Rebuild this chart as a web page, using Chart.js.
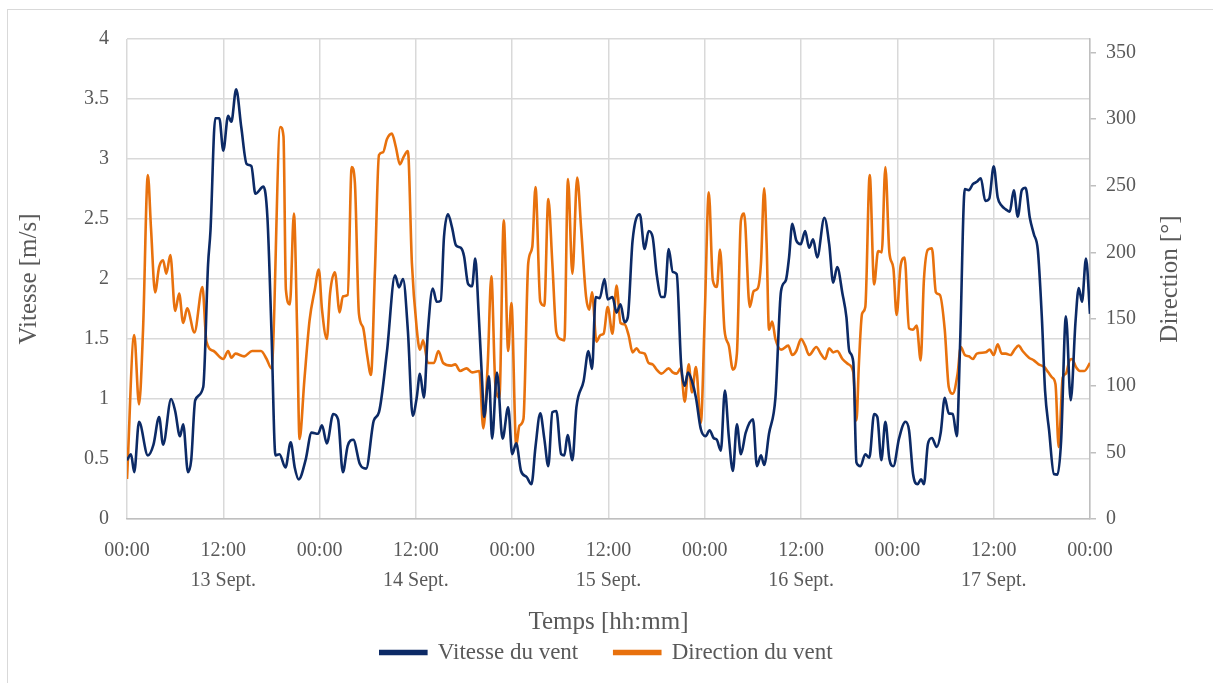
<!DOCTYPE html>
<html>
<head>
<meta charset="utf-8">
<script src="https://cdn.jsdelivr.net/npm/chart.js@4.4.1/dist/chart.umd.min.js"></script>
<style>
  html, body { margin: 0; padding: 0; background: #fff; }
  canvas { display: block; }
</style>
</head>
<body>
<canvas id="chart" width="1213" height="683"></canvas>
<script>
// Temps en heures depuis le 13 sept. 00:00
const speedHours = [
  0, 0.5, 0.9, 1.5, 2.6, 3.3, 4.0, 4.5, 5.5, 6.0, 6.6, 7.0, 7.6, 8.0, 8.5, 9.5, 10.1, 10.4, 11.0, 11.5,
  12.0, 12.6, 13.0, 13.6, 14.25, 14.9, 15.5, 16.0, 17.0, 17.5, 18.0, 18.5, 19.0, 19.75, 20.4, 20.9, 21.4, 22.25, 23.0, 23.8,
  24.3, 24.9, 25.7, 26.3, 26.9, 27.5, 28.2, 29.0, 29.8, 30.75, 31.4, 32.4, 33.4, 33.9, 34.4, 35.0, 35.6, 36.1, 36.5, 37.0,
  37.5, 38.1, 38.6, 39.1, 39.5, 40.0, 40.5, 41.0, 41.6, 42.0, 42.5, 43.0, 43.4, 43.8, 44.25, 44.5, 45.1, 45.5, 46.1, 46.8,
  47.5, 48.0, 48.5, 49.1, 49.8, 50.4, 50.9, 51.5, 52.0, 52.5, 53.0, 53.5, 54.1, 54.5, 54.9, 55.5, 56.0, 56.9, 57.5, 57.95,
  58.4, 58.9, 59.5, 59.9, 60.5, 61.0, 61.5, 62.0, 62.4, 63.0, 63.9, 64.5, 65.0, 65.5, 66.0, 66.6, 67.0, 67.5, 68.0, 68.5,
  69.05, 69.5, 69.9, 70.4, 70.9, 71.5, 72.1, 72.6, 73.1, 73.5, 74.0, 74.5, 75.0, 75.5, 76.0, 76.5, 77.1, 78.0, 78.5, 79.0,
  79.4, 80.0, 80.8, 81.5, 82.1, 82.5, 82.9, 83.4, 83.95, 84.5, 85.0, 85.5, 86.0, 86.9, 87.5, 88.0, 88.5, 89.15, 89.65, 90.0,
  90.5, 90.9, 91.4, 92.0, 92.5, 93.1, 93.5, 94.0, 94.5, 95.0, 95.5, 96.2, 97.0, 97.45, 97.95, 98.5, 98.95, 99.3, 99.8, 100.3,
  100.9, 101.4, 101.9, 102.4, 102.9, 103.4, 103.8, 104.4, 104.9, 105.4, 105.9, 106.4, 106.95, 107.45, 108.0, 108.5, 109.0, 109.5, 110.0, 110.5,
  111.0, 111.5, 111.97, 112.5, 113.0, 113.5, 114.0, 114.4, 114.9, 115.5, 115.95, 116.4, 117.0, 117.6, 118.2, 118.6, 119.0, 119.5, 120.0
];
const speedValues = [
  0.49, 0.54, 0.39, 0.81, 0.53, 0.62, 0.85, 0.62, 1.0, 0.9, 0.69, 0.79, 0.39, 0.49, 0.99, 1.1, 2.12, 2.4, 3.34, 3.34,
  3.07, 3.36, 3.31, 3.58, 3.26, 2.96, 2.94, 2.71, 2.77, 2.51, 1.57, 0.53, 0.54, 0.43, 0.64, 0.43, 0.33, 0.49, 0.72, 0.71,
  0.78, 0.63, 0.875, 0.83, 0.39, 0.61, 0.66, 0.46, 0.42, 0.82, 0.89, 1.40, 2.03, 1.93, 2.0, 1.57, 0.86, 1.01, 1.21, 1.01,
  1.57, 1.92, 1.81, 1.82, 2.35, 2.54, 2.43, 2.28, 2.26, 2.19, 1.96, 1.94, 2.17, 1.74, 1.15, 0.85, 1.19, 0.67, 1.22, 0.67,
  0.93, 0.54, 0.63, 0.40, 0.35, 0.29, 0.60, 0.88, 0.67, 0.44, 0.89, 0.90, 0.54, 0.53, 0.70, 0.49, 0.93, 1.15, 1.40, 1.25,
  1.85, 1.84, 2.0, 1.83, 1.85, 1.72, 1.79, 1.64, 1.68, 2.32, 2.54, 2.25, 2.40, 2.35, 2.04, 1.85, 1.85, 2.25, 2.06, 2.04,
  1.29, 1.11, 1.22, 1.15, 1.01, 0.75, 0.69, 0.74, 0.675, 0.66, 0.57, 1.07, 0.68, 0.40, 0.79, 0.54, 0.72, 0.83, 0.44, 0.53,
  0.45, 0.71, 1.01, 1.90, 1.99, 2.18, 2.46, 2.32, 2.29, 2.40, 2.26, 2.33, 2.18, 2.51, 2.29, 1.97, 2.10, 1.88, 1.68, 1.40,
  1.31, 0.47, 0.44, 0.54, 0.51, 0.875, 0.85, 0.49, 0.81, 0.50, 0.44, 0.67, 0.81, 0.74, 0.375, 0.29, 0.33, 0.29, 0.625, 0.675,
  0.60, 0.72, 1.01, 0.88, 0.875, 0.69, 1.43, 2.75, 2.74, 2.79, 2.81, 2.84, 2.65, 2.67, 2.94, 2.68, 2.61, 2.58, 2.56, 2.74,
  2.52, 2.74, 2.76, 2.51, 2.375, 2.24, 1.68, 1.07, 0.74, 0.375, 0.37, 0.65, 1.69, 0.99, 1.65, 1.925, 1.81, 2.17, 1.71
];

const dirHours = [
  0, 0.9, 1.5, 2.0, 2.6, 3.0, 3.5, 4.0, 4.5, 4.9, 5.4, 6.0, 6.5, 7.0, 7.5, 8.4, 9.4, 9.9, 10.8, 12.0,
  12.6, 13.0, 13.5, 14.6, 15.6, 16.7, 17.4, 18.0, 19.1, 19.5, 19.8, 20.3, 20.8, 21.2, 21.5, 22.1, 22.75, 23.4, 23.9, 24.3,
  24.9, 25.3, 25.9, 26.5, 26.9, 27.5, 28.0, 28.4, 28.9, 29.4, 29.9, 30.4, 30.9, 31.4, 31.9, 32.4, 33.0, 33.5, 34.0, 34.5,
  35.0, 35.5, 36.1, 36.5, 36.9, 37.5, 38.25, 38.8, 39.4, 40.4, 40.9, 41.5, 42.3, 43.0, 43.9, 44.4, 44.95, 45.4, 45.9, 46.4,
  46.95, 47.5, 47.9, 48.5, 48.9, 49.4, 50.0, 50.5, 50.9, 51.5, 52.0, 52.5, 53.0, 53.5, 54.0, 54.5, 54.95, 55.5, 56.1, 56.6,
  57.2, 57.6, 57.95, 58.5, 59.0, 59.4, 59.9, 60.5, 61.0, 61.5, 62.0, 62.5, 63.0, 63.5, 63.9, 64.5, 65.0, 65.5, 66.0, 66.6,
  67.5, 68.0, 68.5, 69.0, 69.5, 70.0, 70.4, 70.9, 71.5, 72.0, 72.5, 73.0, 73.5, 73.9, 74.45, 75.0, 75.5, 76.0, 76.5, 76.9,
  77.6, 78.1, 78.6, 79.0, 79.4, 79.7, 80.0, 80.4, 80.8, 81.5, 82.4, 82.9, 83.4, 84.0, 84.5, 85.0, 85.9, 86.45, 87.0, 87.5,
  88.0, 88.5, 89.15, 89.9, 90.5, 90.9, 91.2, 91.6, 92.0, 92.55, 93.1, 93.6, 94.05, 94.5, 95.0, 95.5, 95.9, 96.4, 96.9, 97.45,
  97.95, 98.4, 98.9, 99.3, 99.8, 100.3, 100.8, 101.3, 101.9, 102.4, 102.9, 103.5, 103.9, 104.4, 104.9, 105.4, 105.9, 107.0, 107.5, 108.0,
  108.5, 109.0, 109.5, 110.1, 110.6, 111.1, 111.6, 112.4, 113.0, 113.6, 114.3, 114.8, 115.3, 115.7, 116.1, 116.6, 117.0, 117.45, 117.75, 118.25,
  118.75, 119.3, 120.0
];
const dirValues = [
  30, 138, 86, 142, 258, 217, 170, 189, 194, 184, 198, 156, 169, 147, 158, 140, 174, 133, 126, 120,
  126, 121, 124, 122, 126, 126, 120, 113, 294, 287, 172, 161, 229, 142, 60, 104, 149, 172, 187, 157,
  135, 169, 185, 155, 167, 168, 264, 252, 154, 144, 124, 108, 187, 273, 275, 285, 289, 279, 266, 272,
  276, 192, 143, 127, 134, 117, 117, 126, 117, 115, 116, 111, 113, 110, 111, 68, 116, 182, 101, 91,
  224, 126, 162, 55, 70, 75, 192, 204, 249, 163, 160, 240, 192, 140, 135, 134, 255, 184, 256, 217,
  167, 157, 170, 133, 138, 139, 159, 139, 175, 147, 146, 138, 125, 128, 125, 124, 117, 116, 112, 109,
  113, 110, 109, 113, 88, 116, 95, 114, 72, 154, 245, 179, 174, 202, 142, 130, 112, 124, 224, 229,
  159, 171, 173, 192, 248, 207, 142, 148, 135, 127, 130, 123, 126, 135, 130, 123, 129, 124, 120, 128,
  125, 126, 120, 116, 110, 74, 116, 154, 159, 258, 176, 201, 200, 264, 200, 188, 153, 190, 196, 143,
  142, 145, 119, 179, 202, 203, 170, 168, 142, 99, 94, 109, 129, 123, 122, 120, 124, 125, 127, 123,
  131, 124, 124, 123, 127, 130, 126, 121, 119, 116, 114, 110, 106, 101, 54, 106, 109, 119, 120, 114,
  111, 111, 117
];

// Graduations et libellés
const dirTicks = [0, 50, 100, 150, 200, 250, 300, 350];
const dayLabels = ['13 Sept.', '14 Sept.', '15 Sept.', '16 Sept.', '17 Sept.'];

const TEXT = '#595959';
const GRID = '#d9d9d9';
const FONT = "'Liberation Serif', 'DejaVu Serif', serif";

Chart.defaults.font.family = FONT;
Chart.defaults.color = TEXT;

// Cadre gris + titre de l'axe de droite (lu de bas en haut comme dans Excel)
const frame = {
  id: 'frame',
  beforeDraw(chart) {
    const ctx = chart.ctx;
    ctx.save();
    ctx.fillStyle = '#fff';
    ctx.fillRect(0, 0, chart.width, chart.height);
    ctx.strokeStyle = GRID;
    ctx.lineWidth = 1;
    ctx.strokeRect(7.5, 9.5, chart.width + 10, chart.height + 10);
    ctx.restore();
  },
  afterDraw(chart) {
    const area = chart.chartArea;
    const ctx = chart.ctx;
    ctx.save();
    ctx.translate(area.right + 80, (area.top + area.bottom) / 2);
    ctx.rotate(-Math.PI / 2);
    ctx.font = '25px ' + FONT;
    ctx.fillStyle = TEXT;
    ctx.textAlign = 'center';
    ctx.textBaseline = 'middle';
    ctx.fillText('Direction [°]', 0, 0);
    ctx.restore();
  }
};

const toPoints = (xs, ys) => xs.map((x, i) => ({ x: x, y: ys[i] }));

new Chart(document.getElementById('chart'), {
  type: 'line',
  data: {
    datasets: [{
      label: 'Vitesse du vent',
      data: toPoints(speedHours, speedValues),
      yAxisID: 'y',
      borderColor: '#0c2a66',
      backgroundColor: '#0c2a66',
      borderWidth: 2.6,
      pointRadius: 0,
      cubicInterpolationMode: 'monotone'
    }, {
      label: 'Direction du vent',
      data: toPoints(dirHours, dirValues),
      yAxisID: 'y2',
      borderColor: '#e8710d',
      backgroundColor: '#e8710d',
      borderWidth: 2.6,
      pointRadius: 0,
      cubicInterpolationMode: 'monotone'
    }]
  },
  options: {
    responsive: false,
    animation: false,
    layout: { padding: { top: 39, left: 0, right: 0, bottom: 9 } },
    plugins: {
      legend: {
        position: 'bottom',
        labels: {
          boxWidth: 46,
          boxHeight: 3,
          padding: 36,
          font: { size: 23 }
        }
      },
      tooltip: { enabled: false }
    },
    scales: {
      x: {
        type: 'linear',
        min: 0,
        max: 120,
        afterFit: s => { s.height = 86; },
        ticks: {
          stepSize: 12,
          padding: 17,
          maxRotation: 0,
          autoSkip: false,
          font: { size: 20, lineHeight: 1.5 },
          callback: v => {
            if (v % 24 === 0) return '00:00';
            return ['12:00', dayLabels[Math.floor(v / 24)]];
          }
        },
        grid: { color: GRID, lineWidth: 1.5, drawTicks: false },
        border: { color: '#bfbfbf', width: 1.5 },
        title: {
          display: true,
          text: 'Temps [hh:mm]',
          font: { size: 25 },
          padding: { top: 0, bottom: -32 }
        }
      },
      y: {
        position: 'left',
        min: 0,
        max: 4,
        afterFit: s => { s.width = 127; },
        ticks: {
          stepSize: 0.5,
          padding: 18,
          font: { size: 20 },
          callback: v => String(v)
        },
        grid: { color: GRID, lineWidth: 1.5, drawTicks: false },
        border: { display: false },
        title: {
          display: true,
          text: 'Vitesse [m/s]',
          font: { size: 25 },
          padding: { top: 14, bottom: 0 }
        }
      },
      y2: {
        position: 'right',
        min: 0,
        max: 360,
        afterFit: s => { s.width = 123; },
        afterBuildTicks: s => { s.ticks = dirTicks.map(v => ({ value: v })); },
        ticks: {
          padding: 10,
          font: { size: 20 }
        },
        grid: { drawOnChartArea: false, color: '#bfbfbf', lineWidth: 1.5, tickLength: 6 },
        border: { color: '#bfbfbf', width: 1.5 }
      }
    }
  },
  plugins: [frame]
});
</script>
</body>
</html>
